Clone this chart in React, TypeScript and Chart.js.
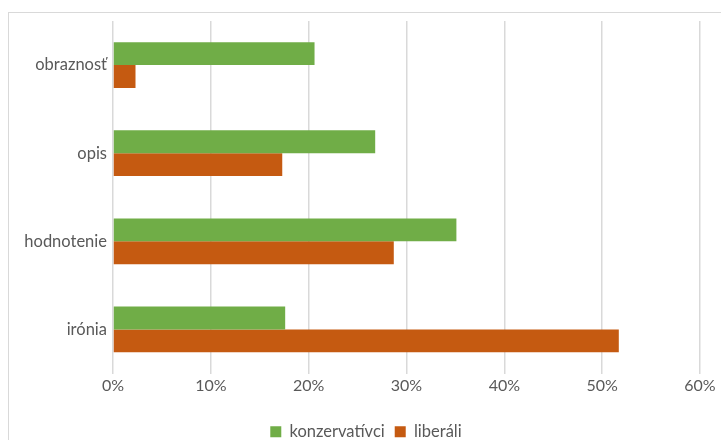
import React, { useEffect, useRef } from "react";
import { Chart, registerables } from "chart.js";

Chart.register(...registerables);

const categories = ["obraznosť", "opis", "hodnotenie", "irónia"];
const konzervativci = [20.6, 26.8, 35.1, 17.6];
const liberali = [2.3, 17.3, 28.7, 51.7];
const xTicks = [0, 10, 20, 30, 40, 50, 60];

const shiftLegend = {
  id: "shiftLegend",
  afterLayout(chart: any) {
    if (chart.legend) {
      chart.legend.left += 16;
      chart.legend.right += 16;
    }
  },
};

export default function App() {
  const ref = useRef<HTMLCanvasElement | null>(null);
  useEffect(() => {
    if (!ref.current) return;
    const chart = new Chart(ref.current, {
      type: "bar",
      data: {
        labels: categories,
        datasets: [
          { label: "konzervatívci", data: konzervativci, backgroundColor: "#70AD47", categoryPercentage: 0.52, barPercentage: 1 },
          { label: "liberáli", data: liberali, backgroundColor: "#C55A11", categoryPercentage: 0.52, barPercentage: 1 },
        ],
      },
      plugins: [shiftLegend],
      options: {
        indexAxis: "y",
        animation: false,
        responsive: false,
        maintainAspectRatio: false,
        layout: { padding: { top: 21, right: 21, left: 0, bottom: -10 } },
        plugins: {
          legend: {
            position: "bottom",
            labels: {
              font: { family: "Lato", size: 16.5 },
              color: "#595959",
              boxWidth: 11,
              boxHeight: 11,
              padding: 10,
            },
          },
          tooltip: { enabled: false },
        },
        scales: {
          x: {
            min: 0,
            max: 60,
            afterBuildTicks: (s: any) => {
              s.ticks = xTicks.map((v) => ({ value: v }));
            },
            afterFit: (s: any) => {
              s.height = 40;
            },
            grid: { color: "#d9d9d9", lineWidth: 1.5, drawTicks: false },
            border: { display: false },
            ticks: {
              font: { family: "Lato", size: 16 },
              color: "#595959",
              padding: 3,
              callback: (v: any) => v + "%",
            },
          },
          y: {
            afterFit: (s: any) => {
              s.width = 113;
            },
            grid: { display: false, drawTicks: false },
            border: { display: false },
            ticks: {
              font: { family: "Lato", size: 16.5 },
              color: "#595959",
              padding: 6,
            },
          },
        },
      },
    });
    return () => chart.destroy();
  }, []);
  return (
    <div style={{ position: "fixed", left: 0, top: 0, width: 721, height: 440, background: "#fff", overflow: "hidden" }}>
      <div style={{ position: "absolute", left: 8, top: 12, width: 760, height: 480, border: "1px solid #d9d9d9", boxSizing: "border-box" }} />
      <canvas ref={ref} width={721} height={440} style={{ position: "absolute", left: 0, top: 0 }} />
    </div>
  );
}
